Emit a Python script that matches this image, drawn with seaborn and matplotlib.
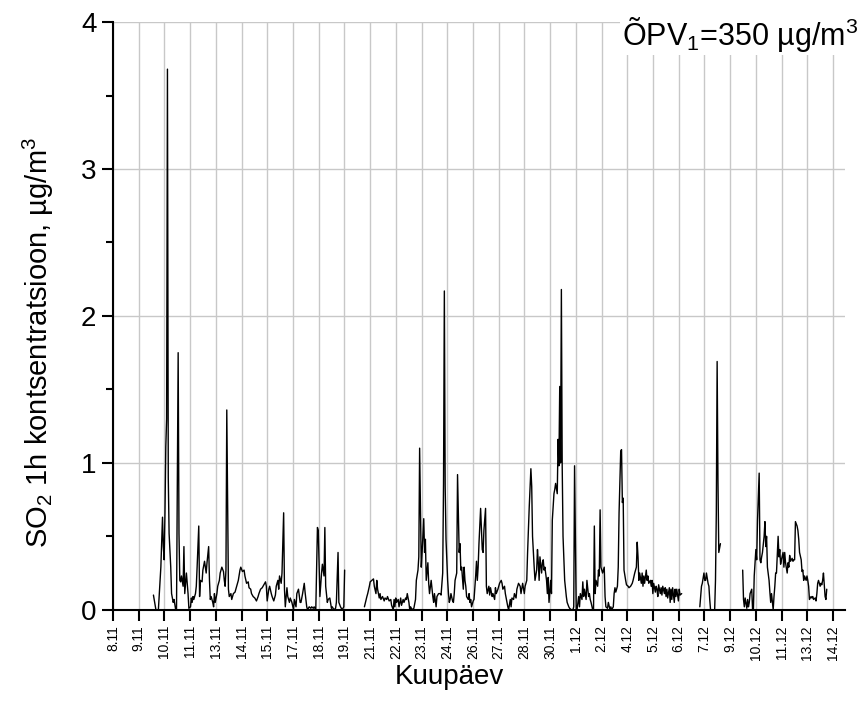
import numpy as np
import pandas as pd
import matplotlib
matplotlib.use('Agg')
import matplotlib.pyplot as plt
from matplotlib.ticker import MultipleLocator
import seaborn as sns

# hours counted from 8.11 00:00, SO2 1h values (ug/m3)
# run A: 10.11 - 19.11
runA_hours = [49, 52, 55, 57, 58, 60, 61, 62, 63, 64,
              65, 66, 67, 68, 70, 71, 73, 74, 76, 77,
              78, 79, 80, 81, 82, 83, 85, 86, 87, 89,
              90, 91, 92, 94, 95, 96, 97, 98, 100, 101,
              102, 104, 105, 106, 108, 109, 111, 113, 114, 116,
              117, 118, 119, 121, 122, 123, 124, 126, 127, 129,
              130, 132, 134, 135, 136, 137, 138, 140, 141, 143,
              144, 146, 148, 150, 152, 154, 155, 157, 159, 160,
              162, 164, 165, 167, 168, 170, 172, 174, 176, 177,
              179, 181, 183, 185, 186, 187, 189, 190, 192, 193,
              195, 197, 198, 200, 201, 202, 204, 205, 207, 208,
              209, 211, 212, 214, 215, 217, 219, 220, 222, 223,
              225, 227, 228, 230, 232, 233, 235, 236, 238, 240,
              241, 243, 244, 246, 248, 249, 251, 253, 254, 256,
              257, 258, 260, 261, 263, 265, 266, 268, 270, 271,
              273, 274, 276, 278, 280, 281]
runA_so2 = [0.10, 0.00, 0.00, 0.20, 0.29, 0.63, 0.43, 0.34, 0.66, 1.11,
            1.30, 3.68, 0.90, 0.52, 0.29, 0.11, 0.05, 0.07, 0.00, 0.00,
            0.90, 1.75, 0.52, 0.20, 0.19, 0.23, 0.16, 0.43, 0.11, 0.25,
            0.18, 0.11, 0.01, 0.02, 0.08, 0.05, 0.09, 0.07, 0.11, 0.16,
            0.29, 0.57, 0.09, 0.20, 0.19, 0.27, 0.33, 0.25, 0.32, 0.43,
            0.20, 0.07, 0.09, 0.05, 0.02, 0.11, 0.05, 0.11, 0.16, 0.20,
            0.25, 0.29, 0.26, 0.20, 0.16, 0.27, 1.36, 0.14, 0.09, 0.11,
            0.07, 0.11, 0.12, 0.16, 0.20, 0.27, 0.29, 0.26, 0.27, 0.23,
            0.18, 0.19, 0.15, 0.14, 0.11, 0.09, 0.08, 0.06, 0.09, 0.11,
            0.14, 0.15, 0.17, 0.19, 0.16, 0.06, 0.14, 0.16, 0.11, 0.09,
            0.06, 0.10, 0.16, 0.20, 0.14, 0.23, 0.18, 0.25, 0.66, 0.14,
            0.02, 0.15, 0.09, 0.05, 0.08, 0.05, 0.00, 0.07, 0.02, 0.11,
            0.14, 0.05, 0.05, 0.11, 0.18, 0.12, 0.02, 0.00, 0.02, 0.01,
            0.02, 0.01, 0.02, 0.00, 0.56, 0.54, 0.09, 0.25, 0.31, 0.23,
            0.56, 0.16, 0.05, 0.07, 0.08, 0.01, 0.02, 0.00, 0.01, 0.05,
            0.39, 0.05, 0.02, 0.00, 0.02, 0.27]

# run B: 20.11 - 6.12 (three pieces, one continuous line)
runB1_hours = [305, 308, 309, 311, 312, 314, 316, 317, 319, 320,
               321, 323, 324, 325, 327, 329, 330, 332, 333, 335,
               337, 338, 340, 341, 342, 343, 344, 346, 347, 349,
               350, 352, 353, 355, 356, 357, 359, 360, 361, 363,
               365, 367, 368, 370, 371, 372, 374, 375, 377, 378,
               379, 380, 382, 383, 384, 386, 388, 389, 390, 392,
               393, 395, 397, 398, 400, 401, 402, 403, 404, 406,
               407, 408, 409, 410, 412, 413, 414, 415, 417, 418,
               420, 421, 422, 423, 425, 426, 427, 428, 429, 431,
               432, 433, 434, 435, 437, 438, 440, 441, 442, 443]
runB1_so2 = [0.02, 0.09, 0.11, 0.16, 0.19, 0.20, 0.21, 0.16, 0.11, 0.20,
             0.14, 0.08, 0.11, 0.07, 0.09, 0.06, 0.08, 0.07, 0.09, 0.06,
             0.07, 0.03, 0.00, 0.07, 0.02, 0.08, 0.05, 0.07, 0.02, 0.08,
             0.03, 0.07, 0.05, 0.08, 0.07, 0.11, 0.05, 0.00, 0.02, 0.00,
             0.01, 0.07, 0.20, 0.27, 0.36, 1.10, 0.29, 0.39, 0.62, 0.39,
             0.48, 0.20, 0.32, 0.18, 0.11, 0.20, 0.09, 0.05, 0.11, 0.02,
             0.09, 0.11, 0.11, 0.10, 0.25, 0.86, 2.17, 0.84, 0.48, 0.20,
             0.11, 0.05, 0.07, 0.11, 0.06, 0.05, 0.11, 0.20, 0.25, 0.92,
             0.39, 0.45, 0.27, 0.29, 0.14, 0.29, 0.20, 0.16, 0.09, 0.07,
             0.11, 0.05, 0.07, 0.02, 0.06, 0.07, 0.23, 0.33, 0.20, 0.29]
runB2_hours = [444, 446, 448, 449, 450, 452, 453, 454, 456, 457,
               458, 460, 461, 463, 464, 465, 467, 468, 469, 471,
               472, 473, 475, 476, 478, 479, 480, 482, 483, 484,
               486, 487, 489, 490, 492, 494, 495, 497, 499, 500,
               502, 503, 505, 507, 508, 509, 511, 512, 514, 515,
               516, 517, 518, 520, 521, 522, 523, 524, 526, 527,
               528, 529, 531, 532, 533, 535, 536, 537, 539, 540,
               541, 542, 543, 544, 545, 546, 548, 550, 551, 553,
               554, 556, 558, 559, 560, 562, 563, 565, 566, 567,
               569, 570, 571, 572, 574, 575, 577, 578, 579, 580,
               582, 583, 584, 585, 586, 588, 589, 590, 591, 592]
runB2_so2 = [0.45, 0.69, 0.41, 0.39, 0.54, 0.69, 0.16, 0.11, 0.16, 0.10,
             0.15, 0.09, 0.11, 0.07, 0.15, 0.11, 0.14, 0.16, 0.18, 0.20,
             0.18, 0.14, 0.16, 0.11, 0.05, 0.02, 0.00, 0.07, 0.02, 0.08,
             0.07, 0.11, 0.08, 0.14, 0.18, 0.16, 0.11, 0.18, 0.11, 0.16,
             0.20, 0.39, 0.70, 0.96, 0.84, 0.50, 0.29, 0.20, 0.27, 0.41,
             0.32, 0.20, 0.36, 0.25, 0.32, 0.34, 0.27, 0.29, 0.20, 0.11,
             0.22, 0.05, 0.20, 0.11, 0.61, 0.79, 0.82, 0.86, 0.79, 1.16,
             0.98, 1.52, 1.00, 2.18, 0.98, 0.50, 0.20, 0.09, 0.05, 0.02,
             0.01, 0.00, 0.00, 0.02, 0.98, 0.00, 0.00, 0.09, 0.02, 0.11,
             0.07, 0.19, 0.09, 0.14, 0.07, 0.20, 0.09, 0.11, 0.07, 0.05,
             0.00, 0.00, 0.57, 0.11, 0.20, 0.16, 0.27, 0.23, 0.68, 0.29]
runB3_hours = [594, 596, 597, 598, 600, 601, 603, 604, 605, 607,
               608, 609, 610, 612, 613, 614, 616, 617, 618, 619,
               620, 622, 623, 625, 626, 628, 630, 631, 633, 635,
               636, 637, 638, 639, 641, 642, 643, 644, 645, 647,
               648, 649, 650, 652, 653, 654, 655, 656, 658, 659,
               660, 661, 662, 664, 665, 666, 667, 669, 670, 671,
               672, 673, 675, 676, 677, 678, 679, 681, 682, 683,
               684, 686, 687, 688, 690]
runB3_so2 = [0.25, 0.29, 0.09, 0.02, 0.01, 0.05, 0.00, 0.02, 0.00, 0.02,
             0.11, 0.15, 0.12, 0.16, 0.29, 0.66, 1.08, 1.09, 0.73, 0.76,
             0.27, 0.20, 0.17, 0.16, 0.15, 0.16, 0.18, 0.20, 0.25, 0.29,
             0.46, 0.36, 0.20, 0.25, 0.18, 0.25, 0.16, 0.23, 0.18, 0.27,
             0.20, 0.23, 0.18, 0.20, 0.16, 0.20, 0.11, 0.18, 0.12, 0.16,
             0.14, 0.09, 0.17, 0.11, 0.15, 0.10, 0.16, 0.11, 0.15, 0.09,
             0.14, 0.08, 0.15, 0.05, 0.14, 0.07, 0.15, 0.05, 0.14, 0.09,
             0.14, 0.06, 0.14, 0.10, 0.11]

# run C: 7.12
runC_hours = [712, 714, 715, 717, 718, 719, 720, 722, 723, 724,
              725, 726, 728, 730, 731, 732, 733, 734, 735, 737]
runC_so2 = [0.02, 0.16, 0.18, 0.25, 0.20, 0.20, 0.25, 0.18, 0.16, 0.07,
            0.00, 0.00, 0.00, 0.00, 0.20, 0.66, 1.69, 0.88, 0.39, 0.45]

# run D: 9.12 - 14.12
runD_hours = [764, 765, 766, 767, 769, 770, 771, 772, 773, 775,
              776, 777, 778, 780, 781, 782, 784, 785, 786, 787,
              788, 790, 791, 792, 793, 794, 796, 797, 798, 799,
              801, 802, 803, 804, 805, 807, 808, 809, 810, 811,
              813, 814, 815, 816, 818, 819, 820, 821, 822, 824,
              825, 826, 827, 828, 830, 831, 832, 833, 835, 836,
              837, 838, 839, 841, 842, 843, 844, 845, 847, 848,
              849, 850, 852, 853, 854, 855, 856, 858, 859, 860,
              861, 862, 864, 865, 866]
runD_so2 = [0.27, 0.07, 0.02, 0.08, 0.01, 0.07, 0.02, 0.05, 0.11, 0.14,
            0.00, 0.00, 0.23, 0.41, 0.34, 0.61, 0.93, 0.34, 0.32, 0.36,
            0.39, 0.50, 0.60, 0.43, 0.50, 0.29, 0.20, 0.12, 0.05, 0.11,
            0.00, 0.09, 0.16, 0.25, 0.25, 0.50, 0.36, 0.41, 0.31, 0.34,
            0.39, 0.29, 0.39, 0.32, 0.25, 0.32, 0.29, 0.37, 0.33, 0.35,
            0.33, 0.34, 0.34, 0.60, 0.57, 0.54, 0.48, 0.39, 0.34, 0.26,
            0.27, 0.20, 0.23, 0.20, 0.23, 0.20, 0.16, 0.07, 0.09, 0.08,
            0.09, 0.07, 0.08, 0.06, 0.11, 0.18, 0.20, 0.16, 0.18, 0.17,
            0.20, 0.25, 0.09, 0.07, 0.14]

tick_labels = ['8.11', '9.11', '10.11', '11.11', '13.11', '14.11', '15.11',
               '17.11', '18.11', '19.11', '21.11', '22.11', '23.11', '24.11',
               '26.11', '27.11', '28.11', '30.11', '1.12', '2.12', '4.12',
               '5.12', '6.12', '7.12', '9.12', '10.12', '11.12', '13.12',
               '14.12']
tick_step_hours = 31.2
x_max_hours = 888


def build_frame():
    runs = {
        'A': (runA_hours, runA_so2),
        'B': (runB1_hours + runB2_hours + runB3_hours,
              runB1_so2 + runB2_so2 + runB3_so2),
        'C': (runC_hours, runC_so2),
        'D': (runD_hours, runD_so2),
    }
    frames = []
    for name, (h, v) in runs.items():
        frames.append(pd.DataFrame({'hour': h, 'so2': v, 'run': name}))
    return pd.concat(frames, ignore_index=True)


def main():
    df = build_frame()

    sns.set_theme(style='white')
    plt.rcParams['font.family'] = ['Liberation Sans', 'DejaVu Sans']
    plt.rcParams['mathtext.fontset'] = 'custom'
    plt.rcParams['mathtext.rm'] = 'Liberation Sans'
    plt.rcParams['mathtext.it'] = 'Liberation Sans:italic'
    plt.rcParams['mathtext.bf'] = 'Liberation Sans:bold'
    for key in ['text.color', 'axes.labelcolor', 'xtick.color', 'ytick.color']:
        plt.rcParams[key] = 'black'

    fig = plt.figure(figsize=(8.63, 7.14), dpi=100)
    ax = fig.add_axes([0.131, 0.146, 0.848, 0.823])

    sns.lineplot(data=df, x='hour', y='so2', units='run', estimator=None,
                 color='black', linewidth=1.0, ax=ax)

    ticks = np.arange(len(tick_labels)) * tick_step_hours
    ax.set_xticks(ticks)
    ax.set_xticklabels(tick_labels, rotation=90)
    ax.set_xlim(0, x_max_hours)
    ax.set_ylim(0, 4)
    ax.yaxis.set_major_locator(MultipleLocator(1))
    ax.yaxis.set_minor_locator(MultipleLocator(0.5))

    ax.grid(True, which='major', color='#c8c8c8', linewidth=1.0)
    ax.get_ygridlines()[-1].set_visible(False)
    ax.set_axisbelow(True)

    for side in ['top', 'right']:
        ax.spines[side].set_visible(False)
    for side in ['left', 'bottom']:
        ax.spines[side].set_color('black')
        ax.spines[side].set_linewidth(1.5)

    ax.tick_params(axis='x', which='major', direction='out', length=8, width=1.5,
                   labelsize=10, pad=3, bottom=True, color='black')
    ax.tick_params(axis='y', which='major', direction='out', length=8, width=1.5,
                   labelsize=20, pad=4, left=True, color='black')
    ax.tick_params(axis='y', which='minor', direction='out', length=5, width=1.5,
                   left=True, color='black')

    ax.set_xlabel('Kuupäev', fontsize=20)
    ax.xaxis.set_label_coords(0.459, -0.092)
    ax.set_ylabel('SO$_2$ 1h kontsentratsioon, µg/m$^3$', fontsize=21)
    ax.yaxis.set_label_coords(-0.078, 0.455)

    fig.text(0.994, 0.952, 'ÕPV$_1$=350 µg/m$^3$', ha='right', va='center',
             fontsize=22, bbox=dict(facecolor='white', edgecolor='none', pad=1))

    fig.savefig('out.png', dpi=100)
    plt.close(fig)


if __name__ == '__main__':
    main()
